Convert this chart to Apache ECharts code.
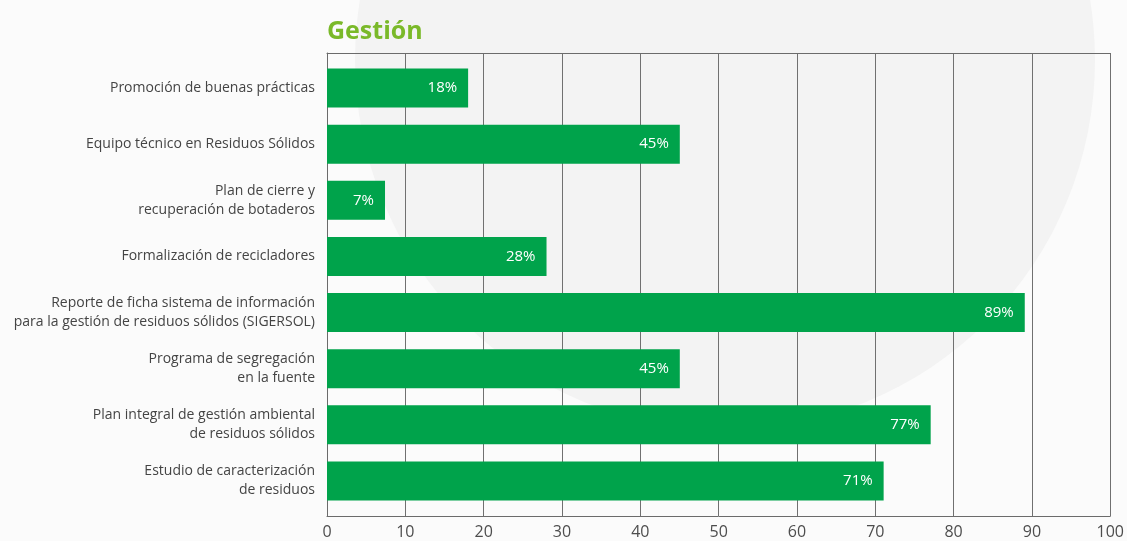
<!DOCTYPE html>
<html>
<head>
<meta charset="utf-8">
<script src="https://cdn.jsdelivr.net/npm/echarts@6/dist/echarts.min.js"></script>
<style>
html,body{margin:0;padding:0;background:#fbfbfb;}
#chart{width:1127px;height:541px;}
</style>
</head>
<body>
<div id="chart"></div>
<script>
const categories = [
  'Promoción de buenas prácticas',
  'Equipo técnico en Residuos Sólidos',
  'Plan de cierre y\nrecuperación de botaderos',
  'Formalización de recicladores',
  'Reporte de ficha sistema de información\npara la gestión de residuos sólidos (SIGERSOL)',
  'Programa de segregación\nen la fuente',
  'Plan integral de gestión ambiental\nde residuos sólidos',
  'Estudio de caracterización\nde residuos'
];
const values = [18, 45, 7.4, 28, 89, 45, 77, 71];
const xTicks = { min: 0, max: 100, interval: 10 };
const titleText = 'Gestión';

const FONT = '"Open Sans", "Noto Sans", sans-serif';
const chart = echarts.init(document.getElementById('chart'), null, { renderer: 'canvas' });
chart.setOption({
  backgroundColor: '#fbfbfb',
  animation: false,
  graphic: [{
    type: 'circle', z: -10, silent: true,
    shape: { cx: 725, cy: 60, r: 370 },
    style: { fill: '#f3f3f3' }
  }],
  title: {
    text: titleText, left: 322, top: 14,
    textStyle: { color: '#7ab929', fontSize: 25, fontWeight: 'bold', fontFamily: FONT }
  },
  grid: [
    { left: 327, right: 16, top: 53, bottom: 25 },
    { left: 327, right: 16, top: 60, bottom: 32 }
  ],
  xAxis: [
    {
      gridIndex: 0, type: 'value', min: xTicks.min, max: xTicks.max, interval: xTicks.interval,
      axisLine: { show: true, lineStyle: { color: '#6b6b6b', width: 1 } },
      axisTick: { show: false },
      splitLine: { show: true, lineStyle: { color: '#707070', width: 1 } },
      axisLabel: { fontSize: 16, color: '#4d4d4d', margin: 8, fontFamily: FONT }
    },
    {
      gridIndex: 0, type: 'value', position: 'top', min: xTicks.min, max: xTicks.max,
      axisLine: { show: true, lineStyle: { color: '#6b6b6b', width: 1 } },
      axisTick: { show: false }, axisLabel: { show: false }, splitLine: { show: false }
    },
    {
      gridIndex: 1, type: 'value', min: xTicks.min, max: xTicks.max, show: false
    }
  ],
  yAxis: [
    {
      gridIndex: 0, type: 'category', data: categories, inverse: true,
      axisLine: { show: true, lineStyle: { color: '#6b6b6b', width: 1 } },
      axisTick: { show: false }, axisLabel: { show: false }, splitLine: { show: false }
    },
    {
      gridIndex: 1, type: 'category', data: categories, inverse: true,
      axisLine: { show: false }, axisTick: { show: false },
      axisLabel: {
        fontSize: 14, color: '#444444', margin: 12, lineHeight: 19,
        align: 'right', fontFamily: FONT
      }
    }
  ],
  series: [{
    type: 'bar', xAxisIndex: 2, yAxisIndex: 1,
    data: values, barWidth: 39,
    itemStyle: { color: '#00a34b' },
    label: {
      show: true, position: 'insideRight', distance: 11,
      color: '#ffffff', fontSize: 15, fontFamily: FONT,
      formatter: p => Math.round(p.value) + '%'
    }
  }]
});
</script>
</body>
</html>
